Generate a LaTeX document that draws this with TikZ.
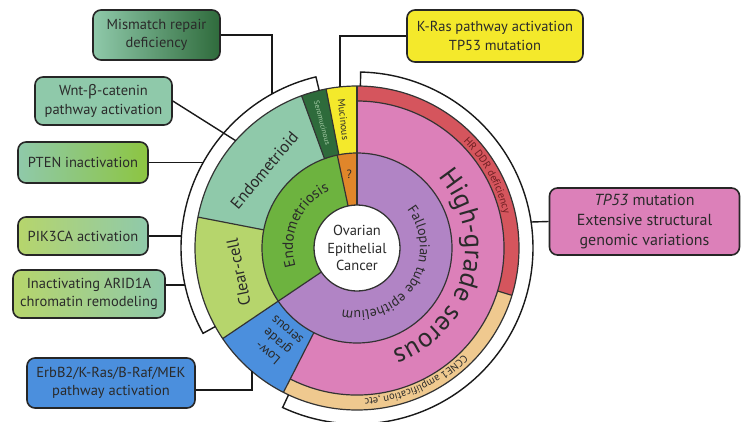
\documentclass[tikz,border=0pt]{standalone}
\usepackage{fontspec}
\setmainfont{PT Sans}
\newfontfamily\grk{Noto Sans}
\usetikzlibrary{decorations.text}
\definecolor{cteal}{HTML}{8FC9AA}
\definecolor{csero}{HTML}{2E6B3B}
\definecolor{cyel}{HTML}{F4E92B}
\definecolor{corg}{HTML}{E0862A}
\definecolor{cendo}{HTML}{6DB33F}
\definecolor{cclear}{HTML}{B6D56C}
\definecolor{cblue}{HTML}{4B8FDD}
\definecolor{cpurp}{HTML}{B184C5}
\definecolor{cpink}{HTML}{DC80B9}
\definecolor{cred}{HTML}{D5555D}
\definecolor{ctan}{HTML}{EFC98F}
\definecolor{cdkgreen}{HTML}{2F6B3C}
\definecolor{cgreen}{HTML}{8DC541}
\definecolor{ctxt}{HTML}{2A2A2A}
\definecolor{cmaroon}{HTML}{6E1F22}
\definecolor{cserotxt}{HTML}{A9CFA9}
\newcommand\ringseg[5]{\fill[#1] (#2:#4) arc[start angle=#2,end angle=#3,radius=#4] -- (#3:#5) arc[start angle=#3,end angle=#2,radius=#5] -- cycle;}
\begin{document}
\begin{tikzpicture}[x=1pt,y=1pt,
  box/.style={draw=black!85, line width=1.6pt, rounded corners=8pt, align=center, inner sep=0pt, text=ctxt, font=\fontsize{14.5}{18.3}\selectfont},
  conn/.style={draw=black!90, line width=1.4pt},
  brk/.style={draw=black!90, line width=1.4pt},
  bord/.style={draw=black!80, line width=1.2pt},
  curved/.style={decorate, decoration={text along path, text align=center, text color=ctxt, text={#1}}}
]
\useasboundingbox (0,0) rectangle (742,-421);
\fill[white] (0,0) rectangle (742,-421);

% ---------- wheel ----------
\begin{scope}[shift={(357,-248)}]
% inner ring
\ringseg{cendo}{102}{214}{43}{95}
\ringseg{corg}{90}{102}{43}{95}
\ringseg{cpurp}{-146}{90}{43}{95}
% middle ring
\ringseg{cyel}{90}{101}{95}{162}
\ringseg{csero}{101}{110}{95}{162}
\ringseg{cteal}{110}{169}{95}{162}
\ringseg{cclear}{169}{214}{95}{162}
\ringseg{cblue}{214}{243}{95}{162}
\ringseg{cpink}{-117}{90}{95}{147}
\ringseg{cred}{-17}{90}{147}{162}
\ringseg{ctan}{-117}{-17}{147}{162}
% borders
\draw[bord] (0,0) circle[radius=95];
\draw[bord] (0,0) circle[radius=162];
\draw[bord] (-117:147) arc[start angle=-117,end angle=90,radius=147];
\foreach \a in {90,102,214} \draw[bord] (\a:43) -- (\a:95);
\foreach \a in {90,101,110,169,214,243} \draw[bord] (\a:95) -- (\a:162);
\draw[bord] (-17:147) -- (-17:162);
% core
\node[circle, fill=white, draw=black!80, line width=1.3pt, minimum size=86pt, inner sep=0pt, align=center, text=ctxt, font=\fontsize{14.5}{17.5}\selectfont] (core) at (0,0) {Ovarian\\Epithelial\\Cancer};
% brackets
\draw[brk] (103.5:162) -- (103.5:176) arc[start angle=103.5,end angle=209,radius=176] -- (209:162);
\draw[brk] (88.8:162) -- (88.8:176) arc[start angle=88.8,end angle=-115,radius=176] -- (-115:162);
% straight labels
\node[rotate=-84, text=ctxt, font=\fontsize{10}{10}\selectfont] (muc) at (96:129) {Mucinous};
\node[rotate=-75, text=cserotxt, font=\fontsize{7.5}{7.5}\selectfont] (sero) at (105.5:130) {Seromucinous};
\node[text=ctxt, font=\fontsize{12}{12}\selectfont] (qm) at (96:74) {?};
\node[rotate=139.6, align=center, text=ctxt, font=\fontsize{13.5}{15}\selectfont] (lgs) at (229.6:123) {Low-\\grade\\serous};
\node[rotate=50, text=ctxt, font=\fontsize{16.5}{16.5}\selectfont] (endoid) at (140:121) {Endometrioid};
\node[rotate=101.6, text=ctxt, font=\fontsize{16.5}{16.5}\selectfont] (clear) at (191.6:121) {Clear-cell};
% curved labels
\path[curved={|\fontsize{27}{27}\selectfont|High-grade serous}] (50:108) arc[start angle=50,end angle=-80,radius=108];
\path[curved={|\fontsize{14}{14}\selectfont|Fallopian tube epithelium}] (57:63) arc[start angle=57,end angle=-123,radius=63];
\path[curved={|\fontsize{15}{15}\selectfont|Endometriosis}] (200:64) arc[start angle=200,end angle=112,radius=64];
\path[decorate, decoration={text along path, text align=center, text color=cmaroon, text={|\fontsize{10.5}{10.5}\selectfont|HR DDR deficiency}}] (52:150.5) arc[start angle=52,end angle=6,radius=150.5];
\path[decorate, decoration={text along path, text align=center, text color=ctxt, text={|\fontsize{10.5}{10.5}\selectfont|CCNE1 amplification ,etc}}] (-28:150.5) arc[start angle=-28,end angle=-104,radius=150.5];
% connector end points
\coordinate (mmE) at (-85,154);
\coordinate (wntE) at (138.5:162);
\coordinate (ptenE) at (-153.8,85.5);
\coordinate (pikE) at (-175.6,12);
\coordinate (arE) at (-172,-37);
\coordinate (erbE) at (-105,-123);
\coordinate (krE) at (-17,161);
\coordinate (tpE) at (174,26);
\end{scope}

% ---------- boxes ----------
\node[box, minimum width=127pt, minimum height=50pt, left color=cteal, middle color=cteal, right color=cdkgreen] (mm) at (156.5,-35) {Mismatch repair\\deficiency};
\node[box, minimum width=137pt, minimum height=48pt, fill=cteal] (wnt) at (103.5,-101) {Wnt-{\grk β}-catenin\\pathway activation};
\node[box, minimum width=130pt, minimum height=41pt, left color=cteal, right color=cgreen] (pten) at (83,-162.5) {PTEN inactivation};
\node[box, minimum width=130pt, minimum height=38pt, left color=cclear, right color=cteal] (pik) at (83,-236) {PIK3CA activation};
\node[box, minimum width=152pt, minimum height=48pt, left color=cclear, middle color=cclear, right color=cteal] (ar) at (89,-294) {Inactivating ARID1A\\chromatin remodeling};
\node[box, minimum width=168pt, minimum height=50pt, fill=cblue] (erb) at (111,-383) {ErbB2/K-Ras/B-Raf/MEK\\pathway activation};
\node[box, minimum width=176pt, minimum height=52pt, fill=cyel] (kras) at (495,-36) {K-Ras pathway activation\\TP53 mutation};
\node[box, minimum width=190pt, minimum height=67pt, fill=cpink, font=\fontsize{16}{20}\selectfont] (tp) at (644.5,-221.5) {\textit{TP53} mutation\\Extensive structural\\genomic variations};

% ---------- connectors ----------
\draw[conn] (mm.east) -| (mmE);
\draw[conn] (wnt.east) -- (wntE);
\draw[conn] (pten.east) -- (ptenE);
\draw[conn] (pik.east) -- (pikE);
\draw[conn] ([yshift=9pt]ar.east) -- (arE);
\draw[conn] ([yshift=-7pt]erb.east) -| (erbE);
\draw[conn] (kras.west) -| (krE);
\draw[conn] (tp.west) -- (tpE);
\end{tikzpicture}
\end{document}
